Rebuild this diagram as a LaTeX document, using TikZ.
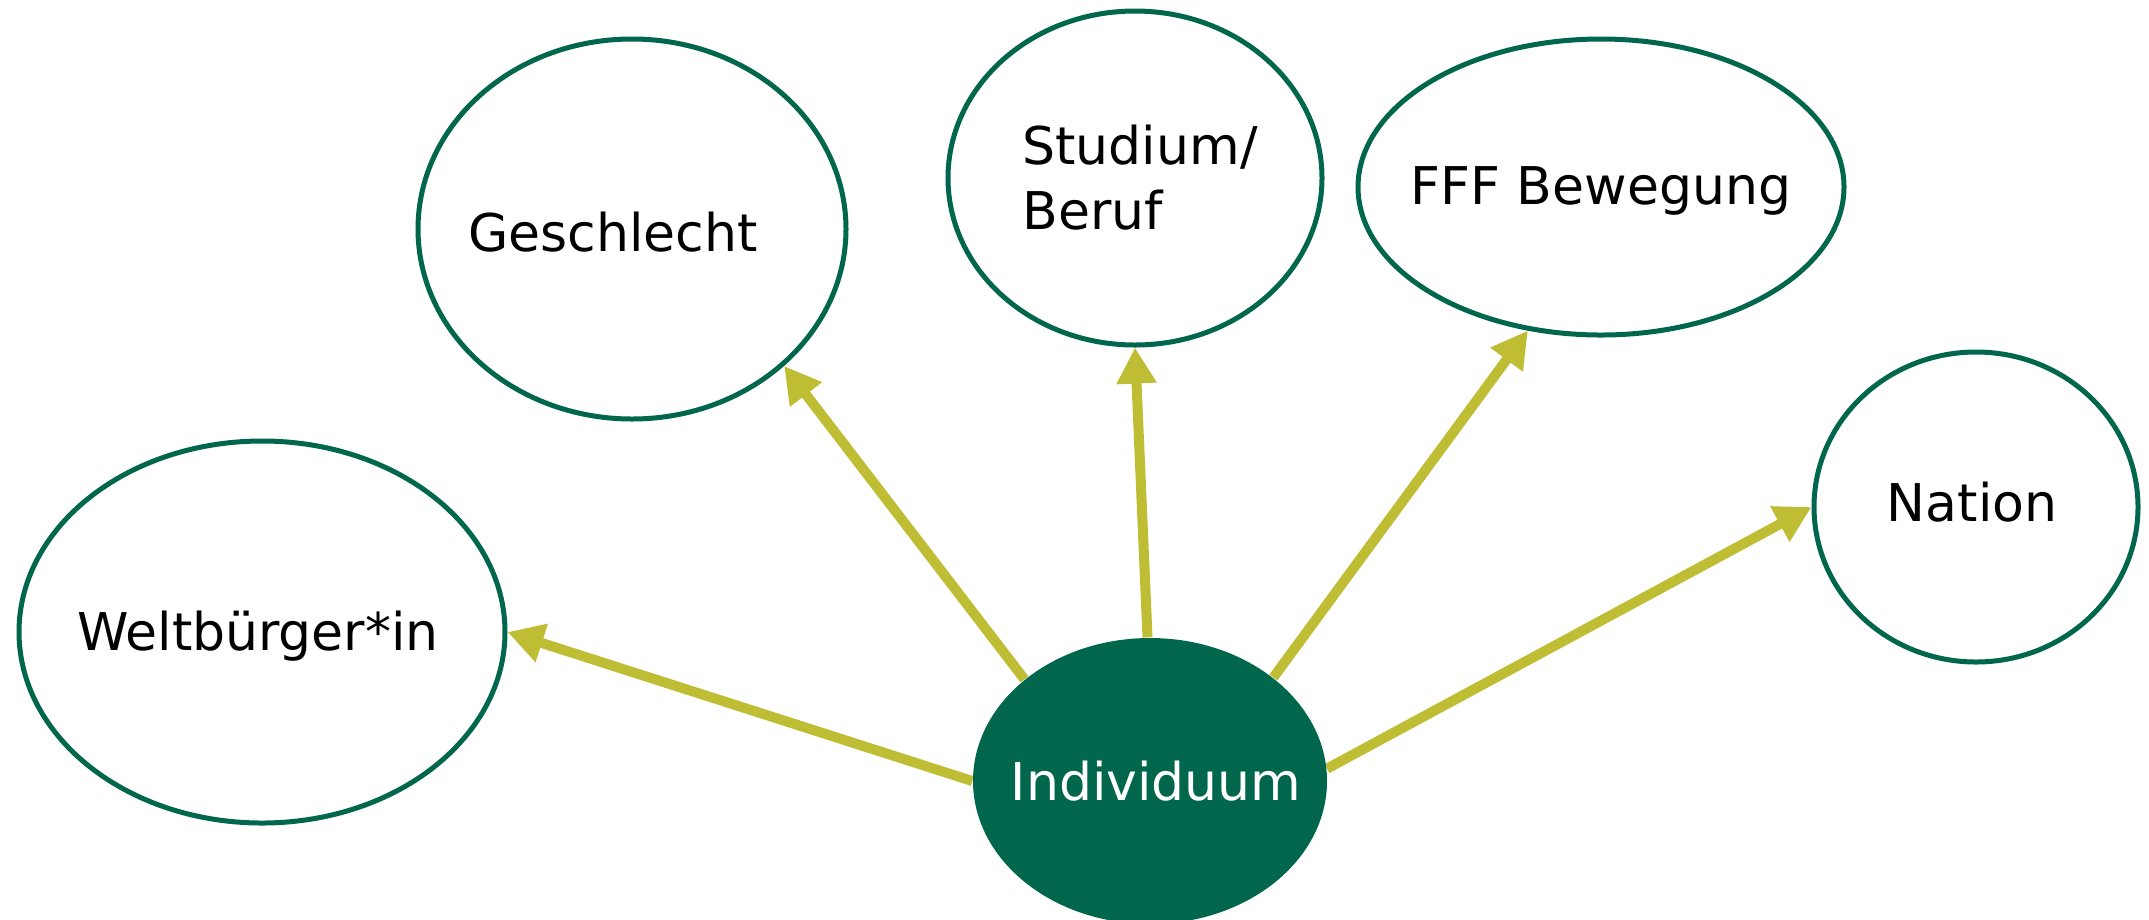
\documentclass[tikz,border=0pt]{standalone}
\usepackage{fontspec}
\setmainfont{DejaVu Sans}
\usetikzlibrary{arrows.meta, shapes.geometric, backgrounds}
\definecolor{dunkelgruen}{HTML}{00674D}
\definecolor{oliv}{HTML}{BFBD34}

\begin{document}
\begin{tikzpicture}[x=0.1mm, y=-0.1mm,
    kreis/.style={ellipse, draw=dunkelgruen, line width=0.5mm, inner sep=0pt},
    schrift/.style={font=\fontsize{14.8}{18.5}\selectfont},
    pfeil/.style={draw=oliv, line width=1mm, -{Triangle[length=3.6mm, width=3.8mm]}}]

\path[use as bounding box, clip] (0,0) rectangle (2149,919);

% Identitaeten rundherum
\node[kreis, minimum width=48.6mm, minimum height=38.2mm,
      label={[schrift, xshift=-0.4mm, yshift=-0.4mm]center:Weltbürger*in}] (welt) at (262,632) {};
\node[kreis, minimum width=42.8mm, minimum height=38mm,
      label={[schrift, xshift=-1.9mm, yshift=-0.3mm]center:Geschlecht}] (gesch) at (632,229) {};
\node[kreis, minimum width=37.4mm, minimum height=33.4mm,
      label={[schrift, align=left, xshift=0.5mm]center:Studium/\\Beruf}] (stud) at (1135,178) {};
\node[kreis, minimum width=48.6mm, minimum height=29.6mm,
      label={[schrift, yshift=-0.4mm]center:FFF Bewegung}] (fff) at (1601,187) {};
\node[kreis, minimum width=32.4mm, minimum height=31mm,
      label={[schrift, xshift=-0.4mm, yshift=0.5mm]center:Nation}] (nation) at (1976,507) {};

% Mitte
\node[ellipse, fill=dunkelgruen, inner sep=0pt, minimum width=35.4mm, minimum height=28.6mm,
      label={[schrift, text=white, xshift=0.6mm]center:Individuum}] (ind) at (1150,781) {};

% Pfeile hinter den Knoten
\begin{scope}[on background layer]
    \fill[white] (0,0) rectangle (2149,919);
    \foreach \von/\ziel/\an in {180/welt/0, 141/gesch/318, 91/stud/270, 40/fff/243, 4/nation/180}
        \draw[pfeil] (ind.\von) -- (\ziel.\an);
\end{scope}

\end{tikzpicture}
\end{document}
